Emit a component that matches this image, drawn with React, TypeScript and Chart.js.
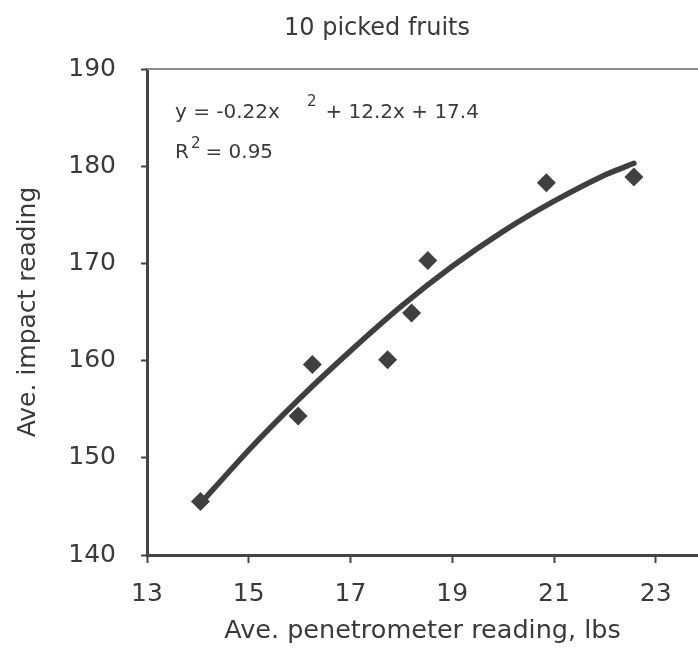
import React, { useEffect, useRef } from "react";
import { Chart, registerables } from "chart.js";

Chart.register(...registerables);

// ---- data ----
const chartTitle = "10 picked fruits";
const xAxisTitle = "Ave. penetrometer reading, lbs";
const yAxisTitle = "Ave. impact reading";

const penetrometer = [14.05, 15.97, 16.25, 17.73, 18.2, 18.52, 20.85, 22.57];
const impact = [145.5, 154.3, 159.6, 160.1, 164.9, 170.3, 178.3, 178.9];

const trendX = [14.05, 15, 16, 17, 18, 19, 20, 21, 22, 22.57];
const trendY = [145.3, 150.8, 156.1, 161.0, 165.6, 169.7, 173.3, 176.4, 179.1, 180.3];

const xTicks = [13, 15, 17, 19, 21, 23];
const yTicks = [140, 150, 160, 170, 180, 190];

const eqMain = "y = -0.22x";
const eqExp = "2";
const eqRest = "+ 12.2x + 17.4";
const r2Base = "R";
const r2Exp = "2";
const r2Rest = "= 0.95";

const FONT = '"DejaVu Sans", sans-serif';
const INK = "#3a3a3a";

const textPlugin = {
  id: "textPlugin",
  afterDraw(chart: any) {
    const ctx = chart.ctx as CanvasRenderingContext2D;
    const area = chart.chartArea;
    ctx.save();
    // top frame line
    ctx.strokeStyle = "#8a8a8a";
    ctx.lineWidth = 2;
    ctx.beginPath();
    ctx.moveTo(area.left, area.top);
    ctx.lineTo(area.right, area.top);
    ctx.stroke();

    ctx.fillStyle = INK;
    ctx.textBaseline = "alphabetic";
    // chart title
    ctx.font = `24px ${FONT}`;
    ctx.textAlign = "center";
    ctx.fillText(chartTitle, 377, 35);

    // equation
    ctx.textAlign = "left";
    const x0 = area.left + 28;
    ctx.font = `20px ${FONT}`;
    ctx.fillText(eqMain, x0, 118);
    const w1 = ctx.measureText(eqMain).width;
    ctx.font = `15px ${FONT}`;
    ctx.fillText(eqExp, x0 + w1 + 27, 106);
    const w2 = ctx.measureText(eqExp).width;
    ctx.font = `20px ${FONT}`;
    ctx.fillText(eqRest, x0 + w1 + 27 + w2 + 9, 118);

    // R^2
    ctx.fillText(r2Base, x0, 158);
    const wr = ctx.measureText(r2Base).width;
    ctx.font = `15px ${FONT}`;
    ctx.fillText(r2Exp, x0 + wr + 2, 148);
    const we = ctx.measureText(r2Exp).width;
    ctx.font = `20px ${FONT}`;
    ctx.fillText(r2Rest, x0 + wr + 2 + we + 5, 158);
    ctx.restore();
  },
};

export default function App() {
  const canvasRef = useRef<HTMLCanvasElement | null>(null);

  useEffect(() => {
    if (!canvasRef.current) return;
    const chart = new Chart(canvasRef.current, {
      type: "scatter",
      data: {
        datasets: [
          {
            label: "Trend",
            data: trendX.map((x, i) => ({ x, y: trendY[i] })),
            showLine: true,
            borderColor: "#3f3f3f",
            borderWidth: 5.5,
            pointRadius: 0,
            tension: 0.2,
            borderCapStyle: "round",
            order: 2,
          },
          {
            label: "Fruits",
            data: penetrometer.map((x, i) => ({ x, y: impact[i] })),
            showLine: false,
            pointStyle: "rectRot",
            pointRadius: 9.5,
            pointBackgroundColor: "#404040",
            pointBorderColor: "#404040",
            pointBorderWidth: 0,
            order: 1,
          },
        ],
      },
      options: {
        animation: false,
        responsive: false,
        maintainAspectRatio: false,
        devicePixelRatio: 1,
        layout: { autoPadding: false, padding: { top: 69, left: 0, right: 0, bottom: 0 } },
        plugins: {
          legend: { display: false },
          tooltip: { enabled: false },
          title: { display: false },
        },
        scales: {
          x: {
            type: "linear",
            min: 13,
            max: 23.83,
            afterBuildTicks: (s: any) => {
              s.ticks = xTicks.map((v) => ({ value: v }));
            },
            afterFit: (s: any) => {
              s.height = 93;
              s.paddingLeft = 0;
              s.paddingRight = 0;
            },
            grid: {
              drawOnChartArea: false,
              drawTicks: true,
              tickLength: 8,
              tickWidth: 2,
              tickColor: "#444",
            },
            border: { display: true, color: "#444", width: 3 },
            ticks: {
              font: { family: FONT, size: 25 },
              color: INK,
              padding: 16,
              maxRotation: 0,
              autoSkip: false,
            },
            title: {
              display: true,
              text: xAxisTitle,
              font: { family: FONT, size: 25.5 },
              color: INK,
              padding: { top: 0, bottom: 1 },
            },
          },
          y: {
            type: "linear",
            min: 140,
            max: 190,
            afterBuildTicks: (s: any) => {
              s.ticks = yTicks.map((v) => ({ value: v }));
            },
            afterFit: (s: any) => {
              s.width = 147;
              s.paddingTop = 0;
              s.paddingBottom = 0;
            },
            grid: {
              drawOnChartArea: false,
              drawTicks: true,
              tickLength: 6,
              tickWidth: 2,
              tickColor: "#444",
            },
            border: { display: true, color: "#444", width: 3 },
            ticks: {
              font: { family: FONT, size: 25 },
              color: INK,
              padding: 25,
              autoSkip: false,
            },
            title: {
              display: true,
              text: yAxisTitle,
              font: { family: FONT, size: 25 },
              color: INK,
              padding: { top: 13, bottom: 0 },
            },
          },
        },
      },
      plugins: [textPlugin],
    } as any);
    return () => chart.destroy();
  }, []);

  return (
    <div style={{ position: "absolute", left: 0, top: 0, width: 698, height: 648, background: "#fff" }}>
      <canvas ref={canvasRef} width={698} height={648} style={{ width: 698, height: 648, display: "block" }} />
    </div>
  );
}
